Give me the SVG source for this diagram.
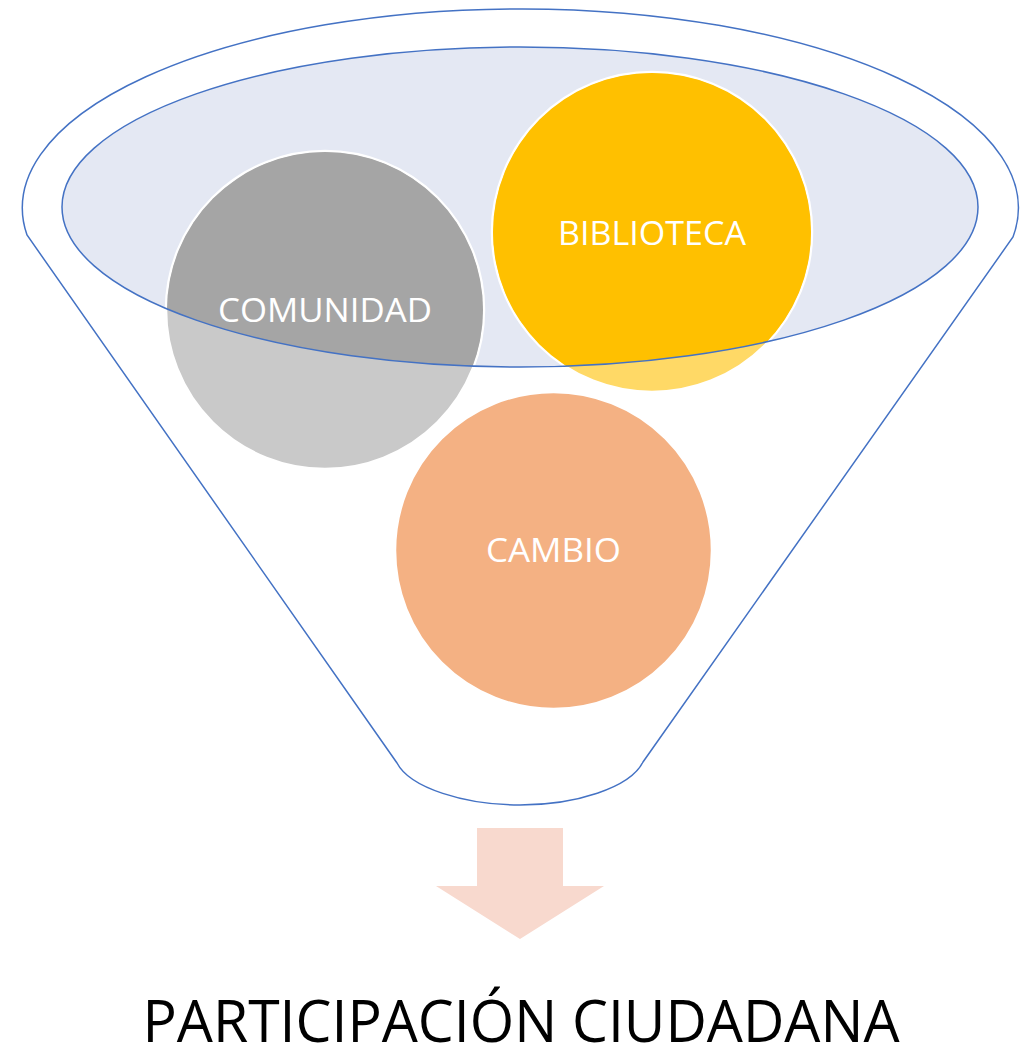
<svg xmlns="http://www.w3.org/2000/svg" width="1020" height="1049" viewBox="0 0 1020 1049">
<style>
.line{fill:none;stroke:#4472C4;stroke-width:1.5}
.lbl{font-family:"Open Sans","Liberation Sans",sans-serif;font-size:33px;fill:#FFFFFF;text-anchor:middle}
.ring{stroke:#FFFFFF;stroke-width:2.5}
</style>
<defs>
<clipPath id="top"><ellipse cx="520" cy="207" rx="458" ry="160"/></clipPath>
</defs>
<rect width="1020" height="1049" fill="#FFFFFF"/>
<g id="funnel">
<path class="line" d="M 27 235 A 498 199 0 1 1 1013 237 L 643 762 C 630 788 575 805 520 805 C 465 805 410 788 397 763 Z"/>
<ellipse cx="520" cy="207" rx="458" ry="160" fill="#E4E8F3"/>
</g>
<g id="comunidad">
<circle class="ring" cx="325" cy="310" r="159" fill="#C9C9C9"/>
<circle cx="325" cy="310" r="158" fill="#A5A5A5" clip-path="url(#top)"/>
<text class="lbl" x="325" y="322" textLength="214" lengthAdjust="spacingAndGlyphs">COMUNIDAD</text>
</g>
<g id="biblioteca">
<circle class="ring" cx="652" cy="232" r="160" fill="#FFD966"/>
<circle cx="652" cy="232" r="159" fill="#FFC000" clip-path="url(#top)"/>
<text class="lbl" x="652" y="245" textLength="188" lengthAdjust="spacingAndGlyphs">BIBLIOTECA</text>
</g>
<g id="cambio">
<circle class="ring" cx="553.5" cy="550.5" r="158.5" fill="#F4B183"/>
<text class="lbl" x="553.5" y="562" textLength="135" lengthAdjust="spacingAndGlyphs">CAMBIO</text>
</g>
<g id="rim">
<ellipse class="line" cx="520" cy="207" rx="458" ry="160"/>
</g>
<g id="connectors">
<polygon points="477,828 563,828 563,886 604,886 520,939 436,886 477,886" fill="#F8D9CE"/>
</g>
<g id="result">
<text x="521" y="1042" font-family="'Open Sans','Liberation Sans',sans-serif" font-size="59" fill="#000000" text-anchor="middle" textLength="757" lengthAdjust="spacingAndGlyphs">PARTICIPACIÓN CIUDADANA</text>
</g>
</svg>
